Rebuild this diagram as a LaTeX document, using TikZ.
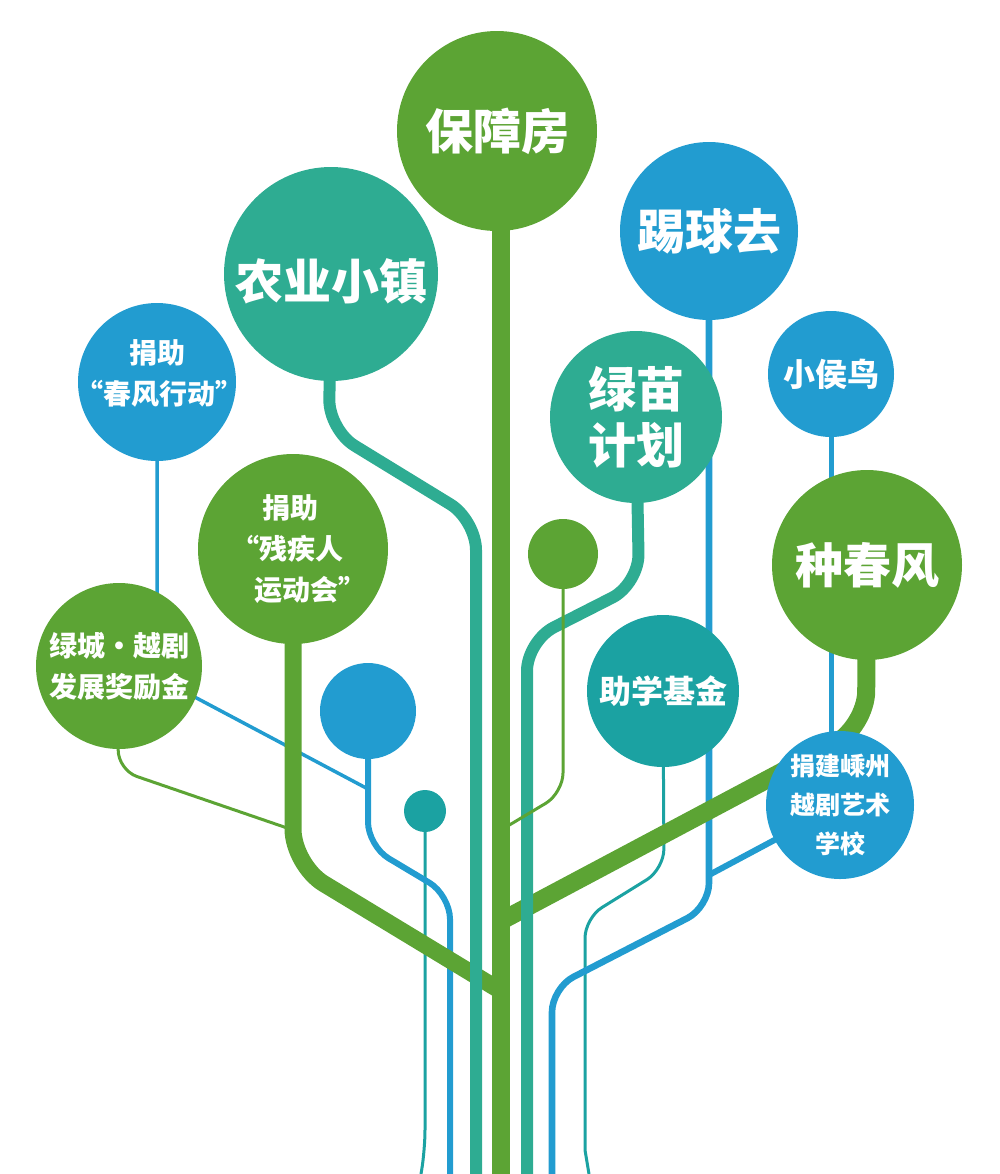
\documentclass[tikz,border=0pt]{standalone}
\usepackage{fontspec}
\setmainfont{Noto Sans CJK SC}
\usetikzlibrary{backgrounds}
\definecolor{leaf}{RGB}{92,164,52}
\definecolor{sky}{RGB}{34,156,208}
\definecolor{jade}{RGB}{46,172,146}
\definecolor{sea}{RGB}{27,162,162}
% a line of zero width, moved sideways by #1
\newcommand{\shiftline}[2]{\makebox[0pt]{\hspace*{#1}#2\hspace*{-#1}}}
\begin{document}
\begin{tikzpicture}[x=0.5pt, y=-0.5pt,
  bubble/.style={circle, fill=#1, inner sep=0pt, text=white, align=center},
  big/.style={font=\fontsize{24}{28}\selectfont\bfseries},
  mid/.style={font=\fontsize{16}{20}\selectfont\bfseries},
  small/.style={font=\fontsize{14}{20.5}\selectfont\bfseries},
  tiny/.style={font=\fontsize{12.5}{19.5}\selectfont\bfseries}]
\useasboundingbox (0,0) rectangle (1000,1174);
% the circles (minimum size in pt = radius in px)
\node[bubble=leaf, minimum size=100pt, big] (baozhang) at (497,131) {保障房};
\node[bubble=sky, minimum size=89pt, big] (tiqiu) at (709,231) {踢球去};
\node[bubble=jade, minimum size=107pt, big] (nongye) at (331,274)
  {\raisebox{-3.5pt}[\height][\depth]{农业小镇}};
\node[bubble=sky, minimum size=79pt, small] (chunfeng) at (157,382)
  {捐助\\\shiftline{1pt}{“春风行动”}\\[-11pt]\mbox{}};
\node[bubble=jade, minimum size=86pt, big] (lvmiao) at (636,417) {绿苗\\计划};
\node[bubble=sky, minimum size=63pt, mid] (houniao) at (831,374) {小侯鸟};
\node[bubble=leaf, minimum size=95pt, small] (canji) at (293,549)
  {\shiftline{-1.5pt}{捐助}\\\shiftline{-3pt}{“残疾人}\\\shiftline{8.5pt}{运动会”}};
\node[bubble=leaf, minimum size=35pt] (bud) at (563,554) {};
\node[bubble=leaf, minimum size=95pt, big] (zhongchun) at (867,565) {种春风};
\node[bubble=leaf, minimum size=83pt, small] (lvcheng) at (119,666) {绿城・越剧\\发展奖励金};
\node[bubble=sky, minimum size=48pt] (dot) at (368,711) {};
\node[bubble=sea, minimum size=21pt] (seed) at (425,811) {};
\node[bubble=sea, minimum size=76pt, mid] (zhuxue) at (663,691) {助学基金};
\node[bubble=sky, minimum size=74pt, tiny] (yueju) at (840,805) {捐建嵊州\\越剧艺术\\学校};
% roots and joints
\foreach \n/\x in {a/421, b/450, c/476, d/501, e/527, f/552, g/589}
  \coordinate (root\n) at (\x,1174);
\coordinate (knotL) at (501,991);
\coordinate (knotR) at (501,921);
\coordinate (knotB) at (501,830);
\coordinate (skyknot) at (709,875);
\coordinate (blueknot) at (368,789);
\coordinate (leafknot) at (293,830);
\begin{scope}[on background layer]
% thin teal stems
\draw[sea, line width=1.5pt, rounded corners=10pt] (seed.center) -- (425,1150) -- (roota);
\draw[sea, line width=1.5pt] (zhuxue.center) [rounded corners=10pt] -- (664,869) -- (585,918)
  [sharp corners] -- (585,1150) [rounded corners=10pt] -- (rootg);
% blue stems
\draw[sky, line width=1.75pt, rounded corners=10pt] (chunfeng.center) -- (157,677) -- (blueknot);
\draw[sky, line width=3pt, rounded corners=12pt] (dot.center) -- (368,846) -- (450,895) -- (rootb);
\draw[sky, line width=3.3pt, rounded corners=12pt] (tiqiu.center) -- (709,907) -- (552,988) -- (rootf);
\draw[sky, line width=3pt] (yueju.center) -- (skyknot);
\draw[sky, line width=2.5pt] (houniao.center) -- (houniao.center |- yueju.center);
% green trunk and branches
\draw[leaf, line width=1.5pt, rounded corners=10pt] (lvcheng.center) -- (118,770) -- (leafknot);
\draw[leaf, line width=9pt] (rootd |- baozhang.center) -- (rootd);
\draw[leaf, line width=9pt, rounded corners=18pt] (zhongchun.center) -- (866,727) -- (knotR);
\draw[leaf, line width=8.5pt, rounded corners=18pt] (canji.center) -- (293,865) -- (knotL);
% teal thick stems
\draw[jade, line width=6pt, rounded corners=15pt] (nongye.center) -- (329,430) -- (476,520) -- (rootc);
\draw[jade, line width=6pt, rounded corners=15pt] (lvmiao.center) -- (639,584) -- (527,641) -- (roote);
% thin green stem
\draw[leaf, line width=1.5pt, rounded corners=10pt] (bud.center) -- (563,793) -- (knotB);
\end{scope}
\end{tikzpicture}
\end{document}
